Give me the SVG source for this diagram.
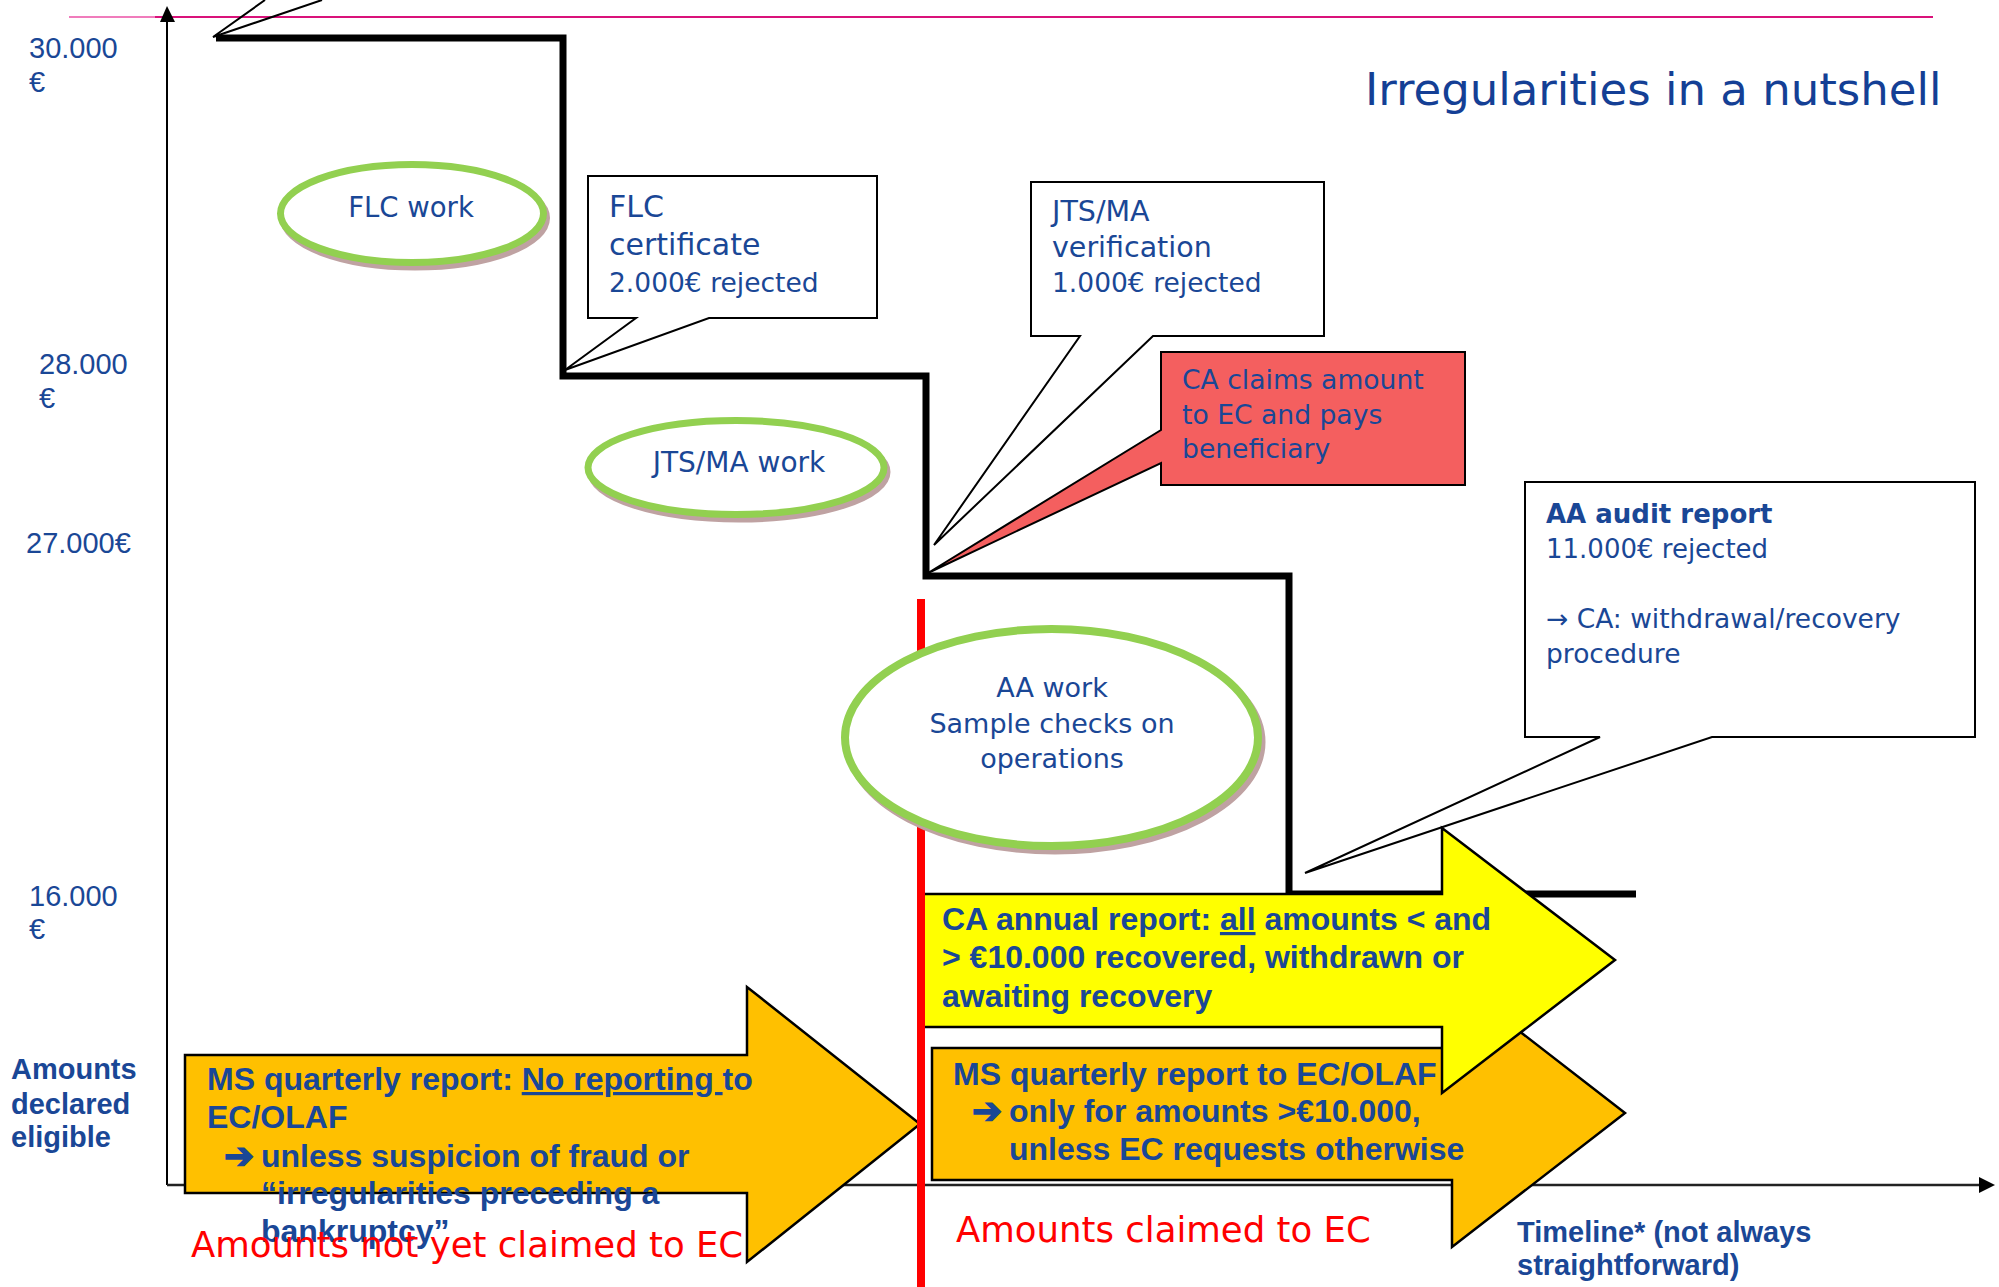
<svg xmlns="http://www.w3.org/2000/svg" width="1999" height="1287" viewBox="0 0 1999 1287">
<style>
.b{fill:#1a4796}
.ar{font-family:"Liberation Sans",Arial,sans-serif}
.arb{font-family:"Liberation Sans",Arial,sans-serif;font-weight:bold}
.vd{font-family:"DejaVu Sans",Verdana,sans-serif}
.box{fill:#fff;stroke:#000;stroke-width:2}
.ell{fill:#fff;stroke:#92d050}
.sh{fill:none;stroke:#bfa2a2}
.red{fill:#ff0000;font-family:"DejaVu Sans",Verdana,sans-serif;font-size:35.5px}
.arr{font-family:"DejaVu Sans",sans-serif;font-weight:bold;font-size:36px;stroke:#1a4796;stroke-width:1.5}
</style>
<rect width="1999" height="1287" fill="#fff"/>
<g id="topline">
<line x1="69" y1="17" x2="155" y2="17" stroke="#f07cbc" stroke-width="2"/>
<line x1="155" y1="17" x2="1933" y2="17" stroke="#d9127a" stroke-width="2"/>
</g>
<g id="connectors">
<line x1="167" y1="1185" x2="167" y2="20" stroke="#000" stroke-width="2"/>
<polygon points="167,6 160,22 175,22" fill="#000"/>
<line x1="167" y1="1185" x2="1982" y2="1185" stroke="#222" stroke-width="2.5"/>
<polygon points="1995,1185 1979,1177 1979,1193" fill="#000"/>
<path d="M216,38 H563 V376 H926 V576 H1289 V894 H1636" fill="none" stroke="#000" stroke-width="7"/>
<polyline points="265,0 213,37 322,0" fill="none" stroke="#000" stroke-width="2"/>
</g>
<g id="flc-certificate">
<path class="box" d="M588,176 H877 V318 H709 L565,370 L636,318 H588 Z"/>
<text class="vd b" x="609" y="217" font-size="30">FLC</text>
<text class="vd b" x="609" y="255" font-size="30">certificate</text>
<text class="vd b" x="609" y="292" font-size="26.5">2.000€ rejected</text>
</g>
<g id="jts-verification">
<path class="box" d="M1031,182 H1324 V336 H1153 L934,545 L1080,336 H1031 Z"/>
<text class="vd b" x="1052" y="221" font-size="28.5">JTS/MA</text>
<text class="vd b" x="1052" y="257" font-size="28.5">verification</text>
<text class="vd b" x="1052" y="292" font-size="26.5">1.000€ rejected</text>
</g>
<g id="ca-claims">
<path d="M1161,352 H1465 V485 H1161 V463 L928,573 L1161,430 Z" fill="#f45f5f" stroke="#000" stroke-width="2"/>
<text class="vd b" x="1182" y="389" font-size="26.6">CA claims amount</text>
<text class="vd b" x="1182" y="424" font-size="26.6">to EC and pays</text>
<text class="vd b" x="1182" y="458" font-size="26.6">beneficiary</text>
</g>
<g id="aa-audit-report">
<path class="box" d="M1525,482 H1975 V737 H1712 L1305,873 L1600,737 H1525 Z"/>
<text class="vd b" x="1546" y="523" font-size="26" font-weight="bold">AA audit report</text>
<text class="vd b" x="1546" y="558" font-size="26">11.000€ rejected</text>
<text class="vd b" x="1546" y="628" font-size="26.5">→ CA: withdrawal/recovery</text>
<text class="vd b" x="1546" y="663" font-size="26.5">procedure</text>
</g>
<g id="ms-quarterly-1">
<path d="M185,1055 H747 V987 L920,1124 L747,1262 V1193 H185 Z" fill="#ffc000" stroke="#000" stroke-width="2.5"/>
</g>
<g id="ms-quarterly-2">
<path d="M932,1048 H1452 V979 L1625,1113 L1452,1247 V1180 H932 Z" fill="#ffc000" stroke="#000" stroke-width="2.5"/>
</g>
<g id="ca-annual">
<path d="M921,894 H1442 V828 L1615,960 L1442,1093 V1027 H921 Z" fill="#ffff00" stroke="#000" stroke-width="2.5"/>
</g>
<g id="claim-line">
<line x1="921" y1="599" x2="921" y2="1287" stroke="#ff0000" stroke-width="8"/>
</g>
<g id="flc-work">
<ellipse class="sh" cx="415" cy="218" rx="131.5" ry="49" stroke-width="7"/>
<ellipse class="ell" cx="412" cy="213.5" rx="131.5" ry="49" stroke-width="7"/>
<text class="vd b" x="411" y="217" font-size="27.5" text-anchor="middle">FLC work</text>
</g>
<g id="jts-work">
<ellipse class="sh" cx="739" cy="472" rx="148" ry="47" stroke-width="7"/>
<ellipse class="ell" cx="736" cy="467.5" rx="148" ry="47" stroke-width="7"/>
<text class="vd b" x="739" y="472" font-size="28" text-anchor="middle">JTS/MA work</text>
</g>
<g id="aa-work">
<ellipse class="sh" cx="1055" cy="742" rx="206.5" ry="108.5" stroke-width="8"/>
<ellipse class="ell" cx="1051.5" cy="737.5" rx="206.5" ry="108.5" stroke-width="8"/>
<text class="vd b" x="1052" y="697" font-size="27" text-anchor="middle">AA work</text>
<text class="vd b" x="1052" y="733" font-size="27" text-anchor="middle">Sample checks on</text>
<text class="vd b" x="1052" y="768" font-size="27" text-anchor="middle">operations</text>
</g>
<g id="title">
<text class="vd" x="1365" y="105" font-size="45" fill="#143f95">Irregularities in a nutshell</text>
</g>
<g id="y-labels">
<text class="ar b" x="29" y="58" font-size="29">30.000</text>
<text class="ar b" x="29" y="92" font-size="29">€</text>
<text class="ar b" x="39" y="374" font-size="29">28.000</text>
<text class="ar b" x="39" y="408" font-size="29">€</text>
<text class="ar b" x="26" y="553" font-size="29">27.000€</text>
<text class="ar b" x="29" y="906" font-size="29">16.000</text>
<text class="ar b" x="29" y="939" font-size="29">€</text>
<text class="arb b" x="11" y="1079" font-size="29">Amounts</text>
<text class="arb b" x="11" y="1114" font-size="29">declared</text>
<text class="arb b" x="11" y="1147" font-size="29">eligible</text>
</g>
<g id="ms-quarterly-1-text" font-size="32">
<text class="arb b" x="207" y="1090">MS quarterly report: <tspan text-decoration="underline">No reporting </tspan>to</text>
<text class="arb b" x="207" y="1128">EC/OLAF</text>
<text class="arr b" x="224" y="1168">➔</text>
<text class="arb b" x="261" y="1167">unless suspicion of fraud or</text>
<text class="arb b" x="261" y="1204">“irregularities preceding a</text>
<text class="arb b" x="261" y="1242">bankruptcy”</text>
</g>
<g id="ms-quarterly-2-text" font-size="32">
<text class="arb b" x="953" y="1085">MS quarterly report to EC/OLAF</text>
<text class="arr b" x="972" y="1123">➔</text>
<text class="arb b" x="1009" y="1122">only for amounts &gt;€10.000,</text>
<text class="arb b" x="1009" y="1160">unless EC requests otherwise</text>
</g>
<g id="ca-annual-text" font-size="32">
<text class="arb b" x="942" y="930">CA annual report: <tspan text-decoration="underline">all</tspan> amounts &lt; and</text>
<text class="arb b" x="942" y="968">&gt; €10.000 recovered, withdrawn or</text>
<text class="arb b" x="942" y="1007">awaiting recovery</text>
</g>
<g id="zone-labels">
<text class="red" x="191" y="1257">Amounts not yet claimed to EC</text>
<text class="red" x="956" y="1242">Amounts claimed to EC</text>
</g>
<g id="timeline-label" font-size="29">
<text class="arb b" x="1517" y="1242">Timeline* (not always</text>
<text class="arb b" x="1517" y="1275">straightforward)</text>
</g>
</svg>
